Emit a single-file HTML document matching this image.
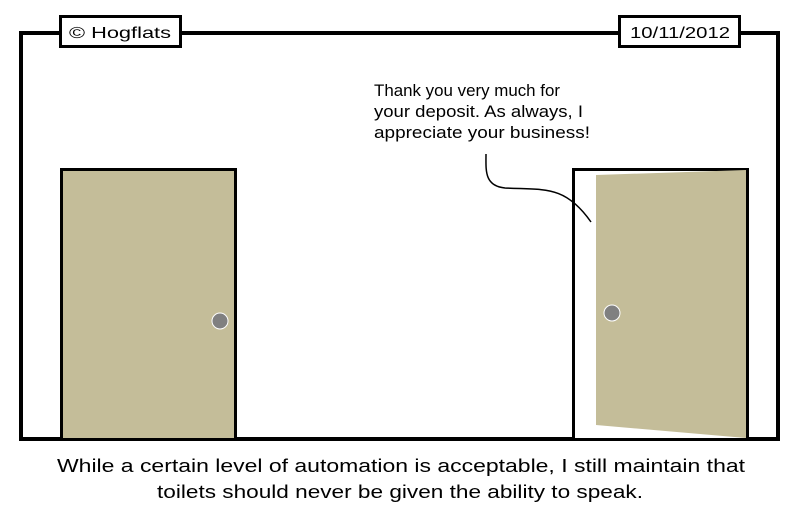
<!DOCTYPE html>
<html><head><meta charset="utf-8"><style>
html,body{margin:0;padding:0;background:#fff;}
svg{display:block;}
text{font-family:"Liberation Sans",sans-serif;fill:#000;}
</style></head><body>
<svg width="800" height="515" viewBox="0 0 800 515" xmlns="http://www.w3.org/2000/svg">
<rect x="0" y="0" width="800" height="515" fill="#fff"/>
<rect x="21" y="33" width="757" height="406" fill="#fff" stroke="#000" stroke-width="4"/>
<!-- left door -->
<rect x="61.5" y="169.5" width="174" height="270" fill="#c4bd99" stroke="#000" stroke-width="3"/>
<circle cx="220" cy="321" r="8" fill="#808080" stroke="#fff" stroke-width="1"/>
<!-- right door frame -->
<rect x="573.5" y="169.5" width="174" height="270" fill="#fff" stroke="#000" stroke-width="3"/>
<polygon points="596,175 746,170 746,438 596,425" fill="#c4bd99"/>
<circle cx="612" cy="313" r="8" fill="#808080" stroke="#fff" stroke-width="1"/>
<!-- speech tail -->
<path d="M486,154 C486,170 484,186 505,188 C545,190 565,185 591,222" fill="none" stroke="#000" stroke-width="1.5"/>
<text x="374" y="96" font-size="17" textLength="186" lengthAdjust="spacingAndGlyphs">Thank you very much for</text>
<text x="374" y="117" font-size="17" textLength="209" lengthAdjust="spacingAndGlyphs">your deposit.  As always, I</text>
<text x="374" y="138" font-size="17" textLength="216" lengthAdjust="spacingAndGlyphs">appreciate your business!</text>
<!-- labels -->
<rect x="60.5" y="16.5" width="120" height="30" fill="#fff" stroke="#000" stroke-width="3"/>
<text x="69" y="38" font-size="16" textLength="102" lengthAdjust="spacingAndGlyphs">© Hogflats</text>
<rect x="619.5" y="16.5" width="120" height="30" fill="#fff" stroke="#000" stroke-width="3"/>
<text x="630" y="38" font-size="16" textLength="100" lengthAdjust="spacingAndGlyphs">10/11/2012</text>
<!-- caption -->
<text x="57" y="472" font-size="18" textLength="688" lengthAdjust="spacingAndGlyphs">While a certain level of automation is acceptable, I still maintain that</text>
<text x="157" y="498" font-size="18" textLength="486" lengthAdjust="spacingAndGlyphs">toilets should never be given the ability to speak.</text>
</svg>
</body></html>
